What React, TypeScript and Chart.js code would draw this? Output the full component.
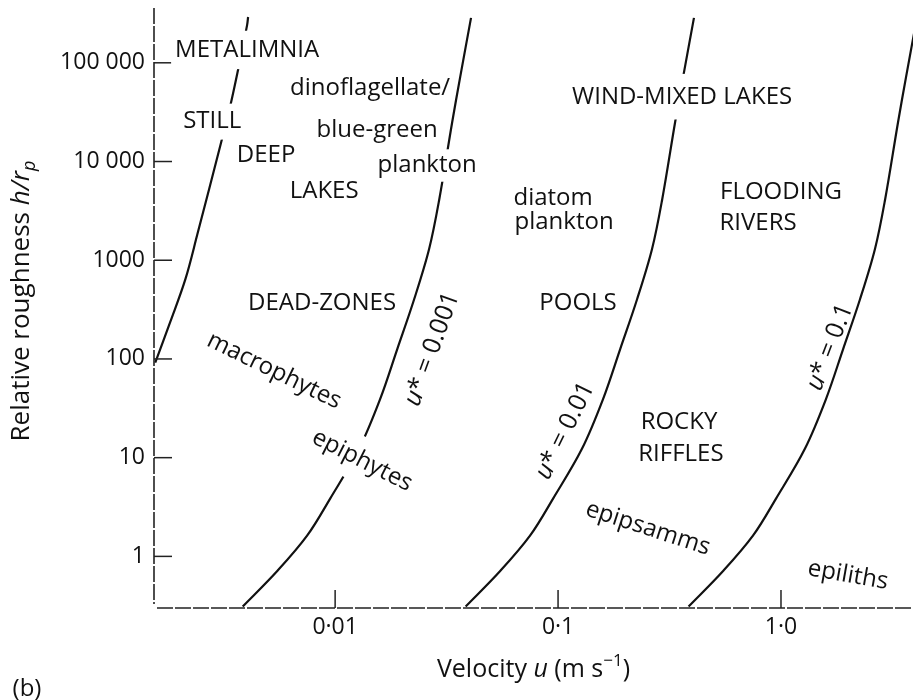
import React, { useEffect, useRef } from 'react';
import { Chart, registerables } from 'chart.js';

Chart.register(...registerables);

const FONT = '"Open Sans", "Noto Sans", "DejaVu Sans", sans-serif';

// ---- data ----
// relative roughness h/rp sampled along the u* curves
const roughness = [285000, 72000, 25000, 4100, 1300, 400, 126, 39, 12.3, 3.85, 1.63, 0.71, 0.31];
// velocity u (m/s) along u* = 0.001
const velocityUstar0001 = [0.0407, 0.0364, 0.0335, 0.0293, 0.0264, 0.0226, 0.019, 0.0159, 0.0128, 0.0095, 0.0075, 0.0055, 0.00385];
// velocity u (m/s) along u* = 0.01
const velocityUstar001 = [0.407, 0.364, 0.335, 0.293, 0.264, 0.226, 0.19, 0.159, 0.128, 0.095, 0.075, 0.055, 0.0385];
// velocity u (m/s) along u* = 0.1
const velocityUstar01 = [4.07, 3.64, 3.35, 2.93, 2.64, 2.26, 1.9, 1.59, 1.28, 0.95, 0.75, 0.55, 0.385];
// left boundary line (metalimnia / still deep lakes)
const boundaryRoughness = [291000, 242000, 85000, 36000, 15600, 1830, 643, 236, 92];
const boundaryVelocity = [0.00407, 0.00403, 0.00367, 0.00338, 0.00308, 0.00241, 0.00213, 0.00182, 0.00156];

const xTickValues = [0.01, 0.1, 1];
const xTickLabels = ['0·01', '0·1', '1·0'];
const yTickValues = [1, 10, 100, 1000, 10000, 100000];
const yTickLabels = ['1', '10', '100', '1000', '10 000', '100 000'];

const xRange = [0.00154, 3.91];
const yRange = [0.3126, 359000];

// region labels placed in data coordinates (u, h/rp)
const regionTexts = ['METALIMNIA', 'STILL', 'DEEP', 'LAKES', 'dinoflagellate/', 'blue-green', 'plankton', 'diatom', 'plankton', 'WIND-MIXED LAKES', 'FLOODING', 'RIVERS', 'DEAD-ZONES', 'POOLS', 'macrophytes', 'epiphytes', 'ROCKY', 'RIFFLES', 'epipsamms', 'epiliths'];
const regionU = [0.00403, 0.00281, 0.0049, 0.00893, 0.01435, 0.01543, 0.02586, 0.095, 0.1064, 0.36, 1.0, 0.789, 0.00874, 0.1229, 0.00533, 0.01322, 0.3487, 0.3559, 0.2532, 1.997];
const regionH = [135000, 25350, 11500, 4977, 55900, 20560, 9112, 4229, 2420, 45360, 4863, 2364, 368, 368, 75.6, 9.33, 23.1, 10.98, 1.92, 0.643];
const regionAngle = [0, 0, 0, 0, 0, 0, 0, 0, 0, 0, 0, 0, 0, 0, 26, 27, 0, 0, 18, 10];
const regionMask = [1.6, 1.5, 0, 0, 0, 0, 1.35, 0, 0, 1.9, 0, 0, 0, 0, 0, 1.9, 0, 0, 0, 0];

// u* curve labels
const ustarValues = ['0.001', '0.01', '0.1'];
const ustarU = [0.02723, 0.1075, 1.659];
const ustarH = [126, 18.7, 132];
const ustarAngle = [-70, -64, -69];

type Seg = { t: string; it?: boolean; pos?: 'sup' | 'sub' };

function drawRich(ctx: CanvasRenderingContext2D, segs: Seg[], cx: number, cy: number, size: number, angle: number, mask = 0) {
  ctx.save();
  ctx.translate(cx, cy);
  ctx.rotate((angle * Math.PI) / 180);
  const fontFor = (s: Seg) => `${s.it ? 'italic ' : ''}${s.pos ? Math.round(size * 0.68) : size}px ${FONT}`;
  let w = 0;
  const widths = segs.map((s) => {
    ctx.font = fontFor(s);
    const m = ctx.measureText(s.t).width;
    w += m;
    return m;
  });
  if (mask > 0) {
    ctx.fillStyle = '#ffffff';
    ctx.fillRect(-w / 2 - 4, (-mask * size) / 2, w + 8, mask * size);
  }
  ctx.fillStyle = '#111111';
  ctx.textBaseline = 'middle';
  ctx.textAlign = 'left';
  let xx = -w / 2;
  segs.forEach((s, i) => {
    ctx.font = fontFor(s);
    const dy = s.pos === 'sup' ? -size * 0.36 : s.pos === 'sub' ? size * 0.3 : 0;
    ctx.fillText(s.t, xx, dy);
    xx += widths[i];
  });
  ctx.restore();
}

const overlay = {
  id: 'overlay',
  afterDatasetsDraw(chart: any) {
    const { ctx, chartArea: a, scales } = chart;
    const x = scales.x;
    const y = scales.y;
    ctx.save();
    const line = (x1: number, y1: number, x2: number, y2: number) => {
      ctx.beginPath();
      ctx.moveTo(x1, y1);
      ctx.lineTo(x2, y2);
      ctx.stroke();
    };
    ctx.strokeStyle = '#222';
    ctx.lineWidth = 1.6;
    ctx.setLineDash([16, 2]);
    line(a.left, a.top, a.left, a.bottom - 4);
    line(a.left + 3, a.bottom, a.right, a.bottom);
    ctx.setLineDash([]);
    ctx.lineWidth = 1.5;
    yTickValues.forEach((v) => {
      const py = y.getPixelForValue(v);
      line(a.left, py, a.left + 18, py);
    });
    xTickValues.forEach((v) => {
      const px = x.getPixelForValue(v);
      line(px, a.bottom, px, a.bottom - 18);
    });

    regionTexts.forEach((t, i) => {
      drawRich(ctx, [{ t }], x.getPixelForValue(regionU[i]), y.getPixelForValue(regionH[i]), 24, regionAngle[i], regionMask[i]);
    });
    ustarValues.forEach((v, i) => {
      drawRich(ctx, [{ t: 'u', it: true }, { t: '*' }, { t: ' = ' + v }], x.getPixelForValue(ustarU[i]), y.getPixelForValue(ustarH[i]), 25, ustarAngle[i]);
    });
    ctx.restore();
  },
  afterDraw(chart: any) {
    const { ctx, chartArea: a } = chart;
    drawRich(ctx, [{ t: 'Relative roughness ' }, { t: 'h/r', it: true }, { t: 'p', it: true, pos: 'sub' }], 22, 301, 26, -90);
    drawRich(ctx, [{ t: 'Velocity ' }, { t: 'u', it: true }, { t: ' (m s' }, { t: '−1', pos: 'sup' }, { t: ')' }], (a.left + a.right) / 2, 670, 25, 0);
    drawRich(ctx, [{ t: '(b)' }], 27, 689, 24, 0);
  },
};

function toPoints(us: number[], hs: number[]) {
  return us.map((u, i) => ({ x: u, y: hs[i] }));
}

const noPad = (s: any) => {
  s.paddingTop = 0;
  s.paddingBottom = 0;
  s.paddingLeft = 0;
  s.paddingRight = 0;
};

export default function App() {
  const ref = useRef<HTMLCanvasElement | null>(null);
  useEffect(() => {
    document.body.style.margin = '0';
    const canvas = ref.current!;
    const curve = (data: any) => ({
      data,
      showLine: true,
      borderColor: '#111111',
      borderWidth: 2.2,
      pointRadius: 0,
      tension: 0.35,
      fill: false,
    });
    const chart = new Chart(canvas, {
      type: 'scatter',
      data: {
        datasets: [
          curve(toPoints(boundaryVelocity, boundaryRoughness)),
          curve(toPoints(velocityUstar0001, roughness)),
          curve(toPoints(velocityUstar001, roughness)),
          curve(toPoints(velocityUstar01, roughness)),
        ],
      },
      options: {
        responsive: false,
        animation: false,
        devicePixelRatio: 1,
        layout: { padding: { top: 8, left: 0, right: 0, bottom: 0 } },
        plugins: { legend: { display: false }, tooltip: { enabled: false } },
        scales: {
          x: {
            type: 'logarithmic',
            position: 'bottom',
            min: xRange[0],
            max: xRange[1],
            grid: { display: false, drawTicks: false },
            border: { display: false },
            afterFit: (s: any) => {
              s.height = 92;
              noPad(s);
            },
            afterBuildTicks: (s: any) => {
              s.ticks = xTickValues.map((v) => ({ value: v }));
            },
            ticks: {
              autoSkip: false,
              maxRotation: 0,
              padding: 6,
              color: '#111',
              font: { family: FONT, size: 23 },
              callback: (v: any) => xTickLabels[xTickValues.indexOf(Number(v))],
            },
          },
          y: {
            type: 'logarithmic',
            position: 'left',
            min: yRange[0],
            max: yRange[1],
            grid: { display: false, drawTicks: false },
            border: { display: false },
            afterFit: (s: any) => {
              s.width = 154;
              noPad(s);
            },
            afterBuildTicks: (s: any) => {
              s.ticks = yTickValues.map((v) => ({ value: v }));
            },
            ticks: {
              autoSkip: false,
              padding: 9,
              color: '#111',
              font: { family: FONT, size: 23 },
              callback: (v: any) => yTickLabels[yTickValues.indexOf(Number(v))],
            },
          },
        },
      } as any,
      plugins: [overlay as any],
    });
    return () => chart.destroy();
  }, []);
  return (
    <div style={{ width: 913, height: 700, background: '#fff' }}>
      <canvas ref={ref} width={913} height={700} style={{ display: 'block' }} />
    </div>
  );
}
